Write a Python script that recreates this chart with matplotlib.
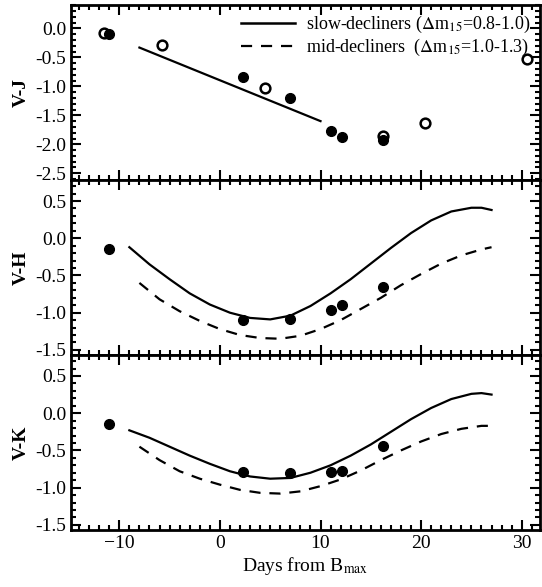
import matplotlib
matplotlib.use("Agg")
import matplotlib.pyplot as plt
from matplotlib.ticker import MultipleLocator
from matplotlib.lines import Line2D

plt.rcParams['font.family'] = ['Liberation Serif', 'DejaVu Serif']
plt.rcParams['mathtext.fontset'] = 'stix'

# V-J data
vj_open_x = [-11.5, -5.8, 4.5, 16.2, 20.4, 30.5]
vj_open_y = [-0.08, -0.28, -1.02, -1.85, -1.63, -0.52]
vj_fill_x = [-11.0, 2.3, 7.0, 11.0, 12.1, 16.2]
vj_fill_y = [-0.10, -0.83, -1.20, -1.77, -1.87, -1.92]
vj_line_x = [-8, 10]
vj_line_y = [-0.33, -1.60]

# V-H data
vh_x = [-11.0, 2.3, 7.0, 11.0, 12.1, 16.2]
vh_y = [-0.15, -1.10, -1.08, -0.97, -0.90, -0.65]
vh_slow_x = [-9, -7, -5, -3, -1, 1, 3, 5, 7, 9, 11, 13, 15, 17, 19, 21, 23, 25, 26, 27]
vh_slow_y = [-0.12, -0.35, -0.55, -0.74, -0.89, -1.00, -1.07, -1.09, -1.04, -0.91, -0.74, -0.55, -0.34, -0.13, 0.07, 0.24, 0.36, 0.41, 0.41, 0.38]
vh_mid_x = [-8, -6, -4, -2, 0, 2, 4, 6, 8, 10, 12, 14, 16, 18, 20, 22, 24, 26, 27]
vh_mid_y = [-0.60, -0.82, -0.98, -1.11, -1.22, -1.30, -1.34, -1.35, -1.31, -1.22, -1.10, -0.95, -0.80, -0.63, -0.48, -0.34, -0.23, -0.15, -0.12]

# V-K data
vk_x = [-11.0, 2.3, 7.0, 11.0, 12.1, 16.2]
vk_y = [-0.15, -0.79, -0.81, -0.79, -0.78, -0.44]
vk_slow_x = [-9, -7, -5, -3, -1, 1, 3, 5, 7, 9, 11, 13, 15, 17, 19, 21, 23, 25, 26, 27]
vk_slow_y = [-0.23, -0.33, -0.45, -0.57, -0.68, -0.78, -0.85, -0.88, -0.87, -0.80, -0.70, -0.57, -0.42, -0.25, -0.08, 0.07, 0.19, 0.26, 0.27, 0.25]
vk_mid_x = [-8, -6, -4, -2, 0, 2, 4, 6, 8, 10, 12, 14, 16, 18, 20, 22, 24, 26, 27]
vk_mid_y = [-0.45, -0.63, -0.78, -0.88, -0.96, -1.03, -1.07, -1.08, -1.05, -0.98, -0.89, -0.77, -0.63, -0.50, -0.38, -0.28, -0.21, -0.17, -0.17]

fig = plt.figure(figsize=(5.42, 5.87), dpi=100)
left, right = 0.131, 0.996
tops = [0.991, 0.693, 0.395]
h = 0.298
axes = [fig.add_axes([left, t - h, right - left, h]) for t in tops]

ms = 7
fs = 14
ax = axes[0]
ax.plot(vj_line_x, vj_line_y, 'k-', lw=1.6)
ax.plot(vj_open_x, vj_open_y, 'o', mfc='white', mec='k', mew=1.8, ms=ms)
ax.plot(vj_fill_x, vj_fill_y, 'o', color='k', ms=ms)
ax.set_ylim(-2.62, 0.4)
ax.set_ylabel('V-J', fontsize=fs, fontweight='bold')
handles = [Line2D([], [], color='k', lw=1.8), Line2D([], [], color='k', lw=1.6, ls=(0, (5, 4)))]
ax.legend(handles, [r'slow-decliners ($\Delta$m$_{15}$=0.8-1.0)', r'mid-decliners  ($\Delta$m$_{15}$=1.0-1.3)'],
          loc='upper right', frameon=False, fontsize=13, handlelength=3.0, borderaxespad=0.1,
          labelspacing=0.1, handletextpad=0.6)

ax = axes[1]
ax.plot(vh_slow_x, vh_slow_y, 'k-', lw=1.6)
ax.plot(vh_mid_x, vh_mid_y, 'k--', lw=1.6, dashes=(5, 4))
ax.plot(vh_x, vh_y, 'o', color='k', ms=ms)
ax.set_ylim(-1.57, 0.78)
ax.set_ylabel('V-H', fontsize=fs, fontweight='bold')

ax = axes[2]
ax.plot(vk_slow_x, vk_slow_y, 'k-', lw=1.6)
ax.plot(vk_mid_x, vk_mid_y, 'k--', lw=1.6, dashes=(5, 4))
ax.plot(vk_x, vk_y, 'o', color='k', ms=ms)
ax.set_ylim(-1.57, 0.78)
ax.set_ylabel('V-K', fontsize=fs, fontweight='bold')
ax.set_xlabel(r'Days from B$_{\rm max}$', fontsize=fs, labelpad=2)

for a in axes:
    a.set_xlim(-14.8, 31.8)
    a.xaxis.set_major_locator(MultipleLocator(10))
    a.xaxis.set_minor_locator(MultipleLocator(1))
    a.yaxis.set_major_locator(MultipleLocator(0.5))
    a.yaxis.set_minor_locator(MultipleLocator(0.1))
    a.tick_params(which='both', direction='in', top=True, right=True, labelsize=fs, width=1.5)
    a.tick_params(which='major', length=7)
    a.tick_params(which='minor', length=3.5)
    for s in a.spines.values():
        s.set_linewidth(2)
    a.yaxis.set_major_formatter(matplotlib.ticker.FormatStrFormatter('%.1f'))
    a.yaxis.labelpad = 4
for a in axes[:2]:
    a.tick_params(labelbottom=False)
axes[2].set_yticks([-1.5, -1.0, -0.5, 0.0, 0.5])
axes[1].set_yticks([-1.5, -1.0, -0.5, 0.0, 0.5])
axes[0].set_yticks([-2.5, -2.0, -1.5, -1.0, -0.5, 0.0])

fig.savefig('out.png', dpi=100)
